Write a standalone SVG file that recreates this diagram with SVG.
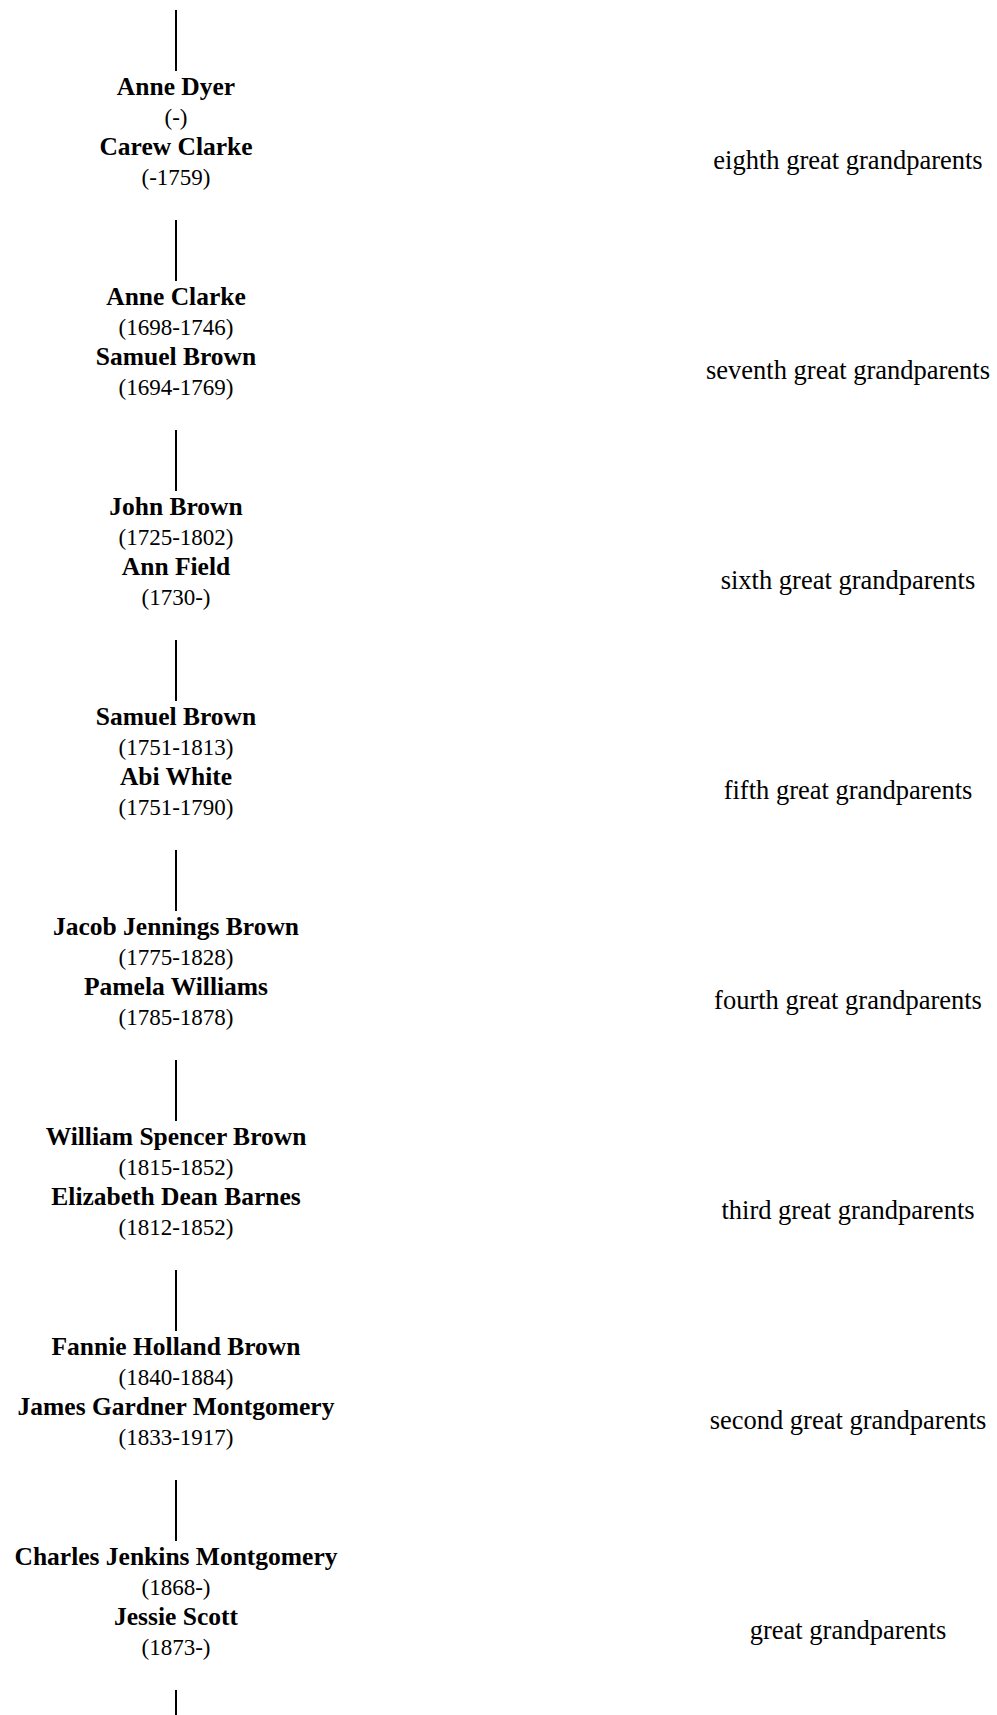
<svg xmlns="http://www.w3.org/2000/svg" width="997" height="1715" viewBox="0 0 997 1715">
<style>
  text { font-family: "Liberation Serif", "Times New Roman", serif; fill: #000; text-anchor: middle; }
  .name { font-weight: bold; font-size: 25.5px; }
  .date { font-size: 23px; }
  .gen { font-size: 26.5px; }
  .edge { stroke: #000; stroke-width: 2; fill: none; }
</style>
<rect width="997" height="1715" fill="#fff"/>
<g id="connectors">
  <line class="edge" x1="176" y1="10" x2="176" y2="71"/>
  <line class="edge" x1="176" y1="220" x2="176" y2="281"/>
  <line class="edge" x1="176" y1="430" x2="176" y2="491"/>
  <line class="edge" x1="176" y1="640" x2="176" y2="701"/>
  <line class="edge" x1="176" y1="850" x2="176" y2="911"/>
  <line class="edge" x1="176" y1="1060" x2="176" y2="1121"/>
  <line class="edge" x1="176" y1="1270" x2="176" y2="1331"/>
  <line class="edge" x1="176" y1="1480" x2="176" y2="1541"/>
  <line class="edge" x1="176" y1="1690" x2="176" y2="1751"/>
</g>
<g id="node-gen8" transform="translate(0,0)">
  <text class="name" x="176" y="95">Anne Dyer</text>
  <text class="date" x="176" y="125">(-)</text>
  <text class="name" x="176" y="155">Carew Clarke</text>
  <text class="date" x="176" y="185">(-1759)</text>
  <text class="gen" x="848" y="169">eighth great grandparents</text>
</g>
<g id="node-gen7" transform="translate(0,210)">
  <text class="name" x="176" y="95">Anne Clarke</text>
  <text class="date" x="176" y="125">(1698-1746)</text>
  <text class="name" x="176" y="155">Samuel Brown</text>
  <text class="date" x="176" y="185">(1694-1769)</text>
  <text class="gen" x="848" y="169">seventh great grandparents</text>
</g>
<g id="node-gen6" transform="translate(0,420)">
  <text class="name" x="176" y="95">John Brown</text>
  <text class="date" x="176" y="125">(1725-1802)</text>
  <text class="name" x="176" y="155">Ann Field</text>
  <text class="date" x="176" y="185">(1730-)</text>
  <text class="gen" x="848" y="169">sixth great grandparents</text>
</g>
<g id="node-gen5" transform="translate(0,630)">
  <text class="name" x="176" y="95">Samuel Brown</text>
  <text class="date" x="176" y="125">(1751-1813)</text>
  <text class="name" x="176" y="155">Abi White</text>
  <text class="date" x="176" y="185">(1751-1790)</text>
  <text class="gen" x="848" y="169">fifth great grandparents</text>
</g>
<g id="node-gen4" transform="translate(0,840)">
  <text class="name" x="176" y="95">Jacob Jennings Brown</text>
  <text class="date" x="176" y="125">(1775-1828)</text>
  <text class="name" x="176" y="155">Pamela Williams</text>
  <text class="date" x="176" y="185">(1785-1878)</text>
  <text class="gen" x="848" y="169">fourth great grandparents</text>
</g>
<g id="node-gen3" transform="translate(0,1050)">
  <text class="name" x="176" y="95">William Spencer Brown</text>
  <text class="date" x="176" y="125">(1815-1852)</text>
  <text class="name" x="176" y="155">Elizabeth Dean Barnes</text>
  <text class="date" x="176" y="185">(1812-1852)</text>
  <text class="gen" x="848" y="169">third great grandparents</text>
</g>
<g id="node-gen2" transform="translate(0,1260)">
  <text class="name" x="176" y="95">Fannie Holland Brown</text>
  <text class="date" x="176" y="125">(1840-1884)</text>
  <text class="name" x="176" y="155">James Gardner Montgomery</text>
  <text class="date" x="176" y="185">(1833-1917)</text>
  <text class="gen" x="848" y="169">second great grandparents</text>
</g>
<g id="node-gen1" transform="translate(0,1470)">
  <text class="name" x="176" y="95">Charles Jenkins Montgomery</text>
  <text class="date" x="176" y="125">(1868-)</text>
  <text class="name" x="176" y="155">Jessie Scott</text>
  <text class="date" x="176" y="185">(1873-)</text>
  <text class="gen" x="848" y="169">great grandparents</text>
</g>
</svg>
